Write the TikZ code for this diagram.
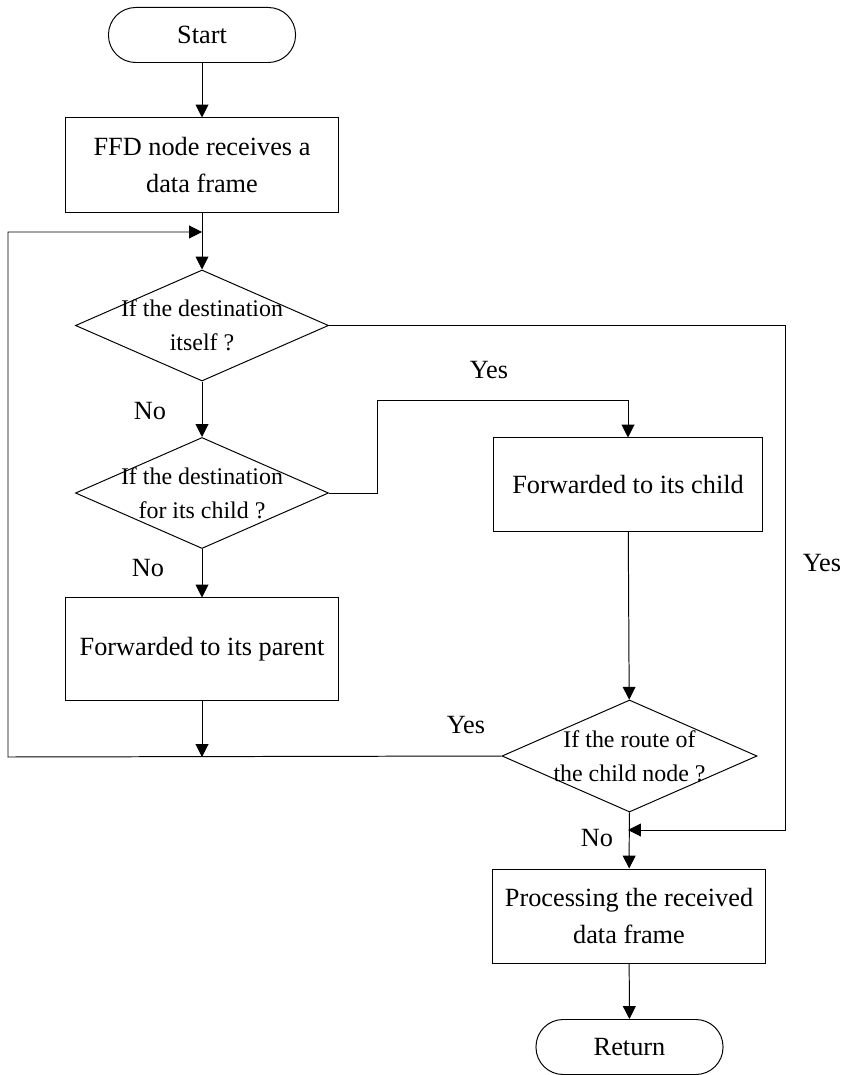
\documentclass[tikz,border=0pt]{standalone}
\usepackage{fontspec}
\setmainfont{Liberation Serif}
\usetikzlibrary{shapes.geometric,arrows.meta}

\newcommand{\flowfont}{\fontsize{18.7}{26}\selectfont}
\newcommand{\diafont}{\fontsize{17}{24}\selectfont}

\tikzset{
    terminal/.style={draw, rectangle, rounded corners=0.68cm, minimum width=4.675cm, minimum height=1.375cm, font=\flowfont},
    procbox/.style={draw, rectangle, align=center, minimum width=6.8cm, minimum height=2.35cm, font=\flowfont},
    decision/.style={draw, diamond, minimum width=6.325cm, minimum height=2.775cm, inner sep=0pt},
    answer/.style={font=\flowfont},
}

\begin{document}
\begin{tikzpicture}[x=0.025cm, y=-0.025cm, line width=0.7pt, >={Triangle[length=3.2mm, width=3.2mm]}]
        \useasboundingbox (0,0) rectangle (848,1075);

        %States
        \node[terminal] (start) at (202,35) {Start};
        \node[procbox] (ffd) at (202,165) {FFD node receives a\\data frame};
        \node[decision, label={[font=\diafont, align=center]center:If the destination\\itself ?}] (d1) at (202,325.5) {};
        \node[decision, label={[font=\diafont, align=center]center:If the destination\\for its child ?}] (d2) at (202,493) {};
        \node[procbox, minimum height=2.55cm] (parent) at (202,649) {Forwarded to its parent};
        \node[procbox, minimum width=6.725cm, minimum height=2.325cm] (child) at (628,484.5) {Forwarded to its child};
        \node[decision, minimum width=6.375cm, minimum height=2.8cm, label={[font=\diafont, align=center]center:If the route of\\the child node ?}] (d3) at (629.5,756) {};
        \node[procbox] (proc) at (629,916) {Processing the received\\data frame};
        \node[terminal] (ret) at (629.5,1047) {Return};

        \coordinate (j1) at (202,232);
        \coordinate (j2) at (202,757);
        \coordinate (j3) at (628,830);

        %labels
        \node[answer] (no1) at (150,411) {No};
        \node[answer] (yes1) at (489,370) {Yes};
        \node[answer] (no2) at (148,568) {No};
        \node[answer] (yes2) at (822,563) {Yes};
        \node[answer] (yes3) at (466,725) {Yes};
        \node[answer] (no3) at (597,838) {No};

        %Edges
        \draw[->] (start) -- (ffd);
        \draw[->] (ffd) -- (d1);
        \draw[->] (d1) -- (d2);
        \draw[->] (d2) -- (parent);
        \draw[->] (parent) -- (j2);
        \draw[->] (d2.east) -| (377,400) -| (child.north);
        \draw[->] (child) -- (d3);
        \draw[->] (d3) -- (proc);
        \draw[->] (proc) -- (ret);

            %loops
        \draw[->] (d3.west) -- (8,757) |- (j1);
        \draw[->] (d1.east) -| (785,830) -- (j3);
\end{tikzpicture}
\end{document}
